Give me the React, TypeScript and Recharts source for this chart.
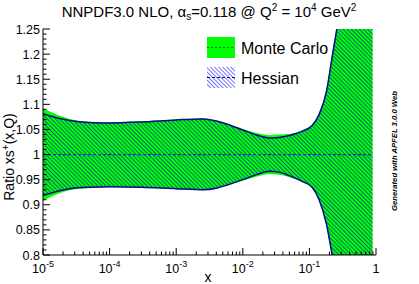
import { ComposedChart, Area, Line, XAxis, YAxis } from 'recharts'

// x grid of the band
const xValues = [1e-5, 2.5e-5, 5e-5, 1e-4, 3e-4, 1e-3, 2.5e-3, 4e-3, 6e-3, 1e-2, 1.6e-2, 2.5e-2, 3.5e-2, 5e-2, 8e-2, 0.11, 0.14, 0.18, 0.22, 0.28, 0.4, 0.63, 0.89]
const mcUpper = [1.091, 1.070, 1.064, 1.063, 1.065, 1.069, 1.071, 1.067, 1.060, 1.050, 1.042, 1.038, 1.039, 1.040, 1.048, 1.059, 1.080, 1.125, 1.195, 1.28, 1.45, 1.70, 2.0]
const mcLower = [0.909, 0.930, 0.934, 0.936, 0.935, 0.932, 0.930, 0.933, 0.940, 0.949, 0.957, 0.962, 0.961, 0.956, 0.945, 0.934, 0.910, 0.862, 0.80, 0.73, 0.60, 0.40, 0.10]
const hesUpper = [1.081, 1.068, 1.064, 1.063, 1.065, 1.069, 1.071, 1.067, 1.060, 1.049, 1.039, 1.033, 1.034, 1.038, 1.047, 1.058, 1.080, 1.125, 1.195, 1.28, 1.45, 1.70, 2.0]
const hesLower = [0.919, 0.932, 0.935, 0.936, 0.935, 0.932, 0.930, 0.933, 0.940, 0.950, 0.960, 0.967, 0.965, 0.958, 0.946, 0.935, 0.910, 0.862, 0.80, 0.73, 0.60, 0.40, 0.10]
const central = [1, 1, 1, 1, 1, 1, 1, 1, 1, 1, 1, 1, 1, 1, 1, 1, 1, 1, 1, 1, 1, 1, 1]

const xMajorTicks = [1e-5, 1e-4, 1e-3, 1e-2, 1e-1, 1]
const xTickExp = ['-5', '-4', '-3', '-2', '-1', '']
const yMajorTicks = [0.8, 0.85, 0.9, 0.95, 1, 1.05, 1.1, 1.15, 1.2, 1.25]
const yTickLabels = ['0.8', '0.85', '0.9', '0.95', '1', '1.05', '1.1', '1.15', '1.2', '1.25']
const legendLabels = ['Monte Carlo', 'Hessian']

const FONT = '"Liberation Sans", Arial, sans-serif'
const GREEN = '#00ff00'
const NAVY = '#0a0a8c'

const data = xValues.map((x, i) => ({
  x,
  mc: [mcLower[i], mcUpper[i]],
  hes: [hesLower[i], hesUpper[i]],
  hesUp: hesUpper[i],
  hesDn: hesLower[i],
  cv: central[i],
}))

// minor ticks 2..9 per decade
const xTicks: number[] = []
xMajorTicks.forEach((m, i) => {
  xTicks.push(m)
  if (i < xMajorTicks.length - 1) for (let k = 2; k <= 9; k++) xTicks.push(+(m * k).toPrecision(3))
})
const yTicks: number[] = []
for (let k = 80; k <= 125; k++) yTicks.push(k / 100)

const majX = (v: number) => xMajorTicks.indexOf(v)
const majY = (v: number) => yMajorTicks.findIndex((t) => Math.abs(t - v) < 1e-6)

function BottomTick({ x, y, payload }: any) {
  const i = majX(payload.value)
  return (
    <g>
      <line x1={x} y1={y} x2={x} y2={y - (i >= 0 ? 7 : 3.5)} stroke="#000" />
      {i >= 0 && (
        <text x={x} y={y + 18} textAnchor="middle" fontSize={12.5} fontFamily={FONT} fill="#000">
          {xTickExp[i] === '' ? '1' : '10'}
          {xTickExp[i] !== '' && <tspan dy={-6} fontSize={9}>{xTickExp[i]}</tspan>}
        </text>
      )}
    </g>
  )
}

function TopTick({ x, y, payload }: any) {
  const len = majX(payload.value) >= 0 ? 7 : 3.5
  return <line x1={x} y1={y} x2={x} y2={y + len} stroke="#000" />
}

function LeftTick({ x, y, payload }: any) {
  const i = majY(payload.value)
  return (
    <g>
      <line x1={x} y1={y} x2={x + (i >= 0 ? 7 : 3.5)} y2={y} stroke="#000" />
      {i >= 0 && (
        <text x={x - 3} y={y + 4.5} textAnchor="end" fontSize={12.5} fontFamily={FONT} fill="#000">
          {yTickLabels[i]}
        </text>
      )}
    </g>
  )
}

function RightTick({ x, y, payload }: any) {
  const len = majY(payload.value) >= 0 ? 7 : 3.5
  return <line x1={x} y1={y} x2={x - len} y2={y} stroke="#000" />
}

export default function App() {
  return (
    <div style={{ position: 'absolute', left: 0, top: 0, width: 419, height: 284, background: '#fff' }}>
      <ComposedChart width={419} height={284} data={data} margin={{ top: 29, right: 43, bottom: 0, left: 0 }}>
        <defs>
          <pattern id="hatch" patternUnits="userSpaceOnUse" width={2.9} height={2.9} patternTransform="rotate(-45)">
            <line x1={1.45} y1={0} x2={1.45} y2={2.9} stroke="#1a2ab0" strokeWidth={1} strokeOpacity={0.75} />
          </pattern>
        </defs>
        <XAxis xAxisId="b" dataKey="x" type="number" scale="log" domain={[1e-5, 1]} allowDataOverflow
          ticks={xTicks} interval={0} height={29} tickSize={0} tickMargin={0} tickLine={false}
          axisLine={{ stroke: '#000' }} tick={<BottomTick />} />
        <XAxis xAxisId="t" orientation="top" dataKey="x" type="number" scale="log" domain={[1e-5, 1]} allowDataOverflow
          ticks={xTicks} interval={0} height={0} tickSize={0} tickMargin={0} tickLine={false}
          axisLine={{ stroke: '#000' }} tick={<TopTick />} />
        <YAxis yAxisId="l" type="number" domain={[0.8, 1.25]} allowDataOverflow ticks={yTicks} interval={0}
          width={43} tickSize={0} tickMargin={0} tickLine={false} axisLine={{ stroke: '#000' }} tick={<LeftTick />} />
        <YAxis yAxisId="r" orientation="right" type="number" domain={[0.8, 1.25]} allowDataOverflow ticks={yTicks} interval={0}
          width={0} tickSize={0} tickMargin={0} tickLine={false} axisLine={{ stroke: '#000' }} tick={<RightTick />} />
        <Area xAxisId="b" yAxisId="l" dataKey="mc" type="monotone" fill={GREEN} fillOpacity={1} stroke={GREEN} strokeWidth={1} isAnimationActive={false} />
        <Area xAxisId="b" yAxisId="l" dataKey="hes" type="monotone" fill="url(#hatch)" fillOpacity={1} stroke="none" isAnimationActive={false} />
        <Line xAxisId="b" yAxisId="l" dataKey="hesUp" type="monotone" stroke={NAVY} strokeWidth={1.5} dot={false} isAnimationActive={false} />
        <Line xAxisId="b" yAxisId="l" dataKey="hesDn" type="monotone" stroke={NAVY} strokeWidth={1.5} dot={false} isAnimationActive={false} />
        <Line xAxisId="b" yAxisId="l" dataKey="cv" type="linear" stroke="#1a1ad0" strokeWidth={1.2} strokeDasharray="3 2" dot={false} isAnimationActive={false} />
      </ComposedChart>
      <svg width={419} height={284} style={{ position: 'absolute', left: 0, top: 0, pointerEvents: 'none' }}>
        <defs>
          <pattern id="hatchLight" patternUnits="userSpaceOnUse" width={2.9} height={2.9} patternTransform="rotate(-45)">
            <line x1={1.45} y1={0} x2={1.45} y2={2.9} stroke="#7070ff" strokeWidth={1} />
          </pattern>
        </defs>
        <g transform="translate(200,30)">
          <rect x={7} y={7} width={28} height={21} fill={GREEN} />
          <line x1={7} x2={35} y1={17.5} y2={17.5} stroke="#008800" strokeDasharray="2 2" />
          <text x={41} y={23.5} fontSize={16} fontFamily={FONT} fill="#000">{legendLabels[0]}</text>
          <rect x={7} y={37} width={28} height={21} fill="url(#hatchLight)" />
          <line x1={7} x2={35} y1={47.5} y2={47.5} stroke={NAVY} strokeDasharray="3 2" />
          <text x={41} y={53.5} fontSize={16} fontFamily={FONT} fill="#000">{legendLabels[1]}</text>
        </g>
        <text x={209} y={17} textAnchor="middle" fontSize={15} fontFamily={FONT} fill="#000">
          NNPDF3.0 NLO, α<tspan dy={3} fontSize={10}>s</tspan><tspan dy={-3}>=0.118 @ Q</tspan>
          <tspan dy={-6} fontSize={10}>2</tspan><tspan dy={6}> = 10</tspan>
          <tspan dy={-6} fontSize={10}>4</tspan><tspan dy={6}> GeV</tspan>
          <tspan dy={-6} fontSize={10}>2</tspan>
        </text>
        <text transform="translate(14,157) rotate(-90)" textAnchor="middle" fontSize={14} fontFamily={FONT} fill="#000">
          Ratio xs<tspan dy={-5} fontSize={10}>+</tspan><tspan dy={5}>(x,Q)</tspan>
        </text>
        <text x={208} y={282} textAnchor="middle" fontSize={14} fontFamily={FONT} fill="#000">x</text>
        <text transform="translate(397,151) rotate(-90)" textAnchor="middle" fontSize={7.7} fontWeight="bold" fontStyle="italic" fontFamily={FONT} fill="#000">
          Generated with APFEL 3.0.0 Web
        </text>
      </svg>
    </div>
  )
}
